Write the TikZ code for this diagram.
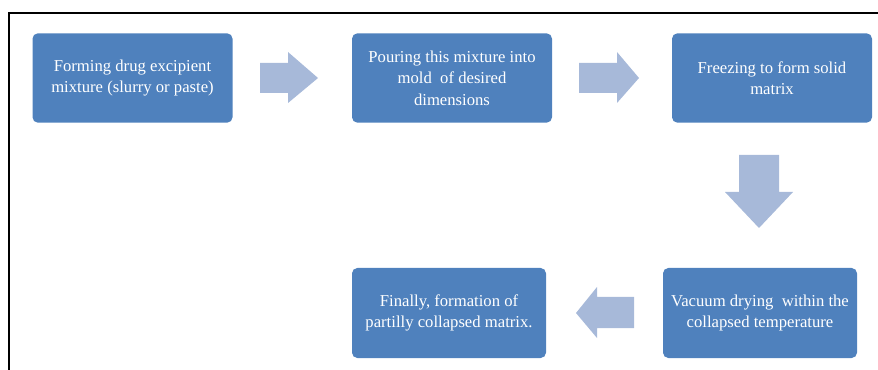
\documentclass[tikz,border=0pt]{standalone}
\usepackage{fontspec}
\setmainfont{Liberation Serif}
\definecolor{boxblue}{RGB}{79,129,189}
\definecolor{arrblue}{RGB}{167,185,217}
\begin{document}
\begin{tikzpicture}[x=0.75pt,y=-0.75pt,
  stepbox/.style={fill=boxblue, rounded corners=4pt, text=white, align=center,
    inner sep=2pt, font=\fontsize{12.5}{16}\selectfont},
  blockarrow/.style={fill=arrblue}]
\useasboundingbox (0,0) rectangle (878,370);
\draw[line width=1.5pt] (8.7,370) -- (8.7,13) -- (878,13);
\node[stepbox, minimum width=150pt, minimum height=67pt] (b1) at (132.5,78)
  {Forming drug excipient\\mixture (slurry or paste)};
\node[stepbox, minimum width=150pt, minimum height=67pt] (b2) at (452,78)
  {Pouring this mixture into\\mold\ \ of desired\\dimensions};
\node[stepbox, minimum width=150pt, minimum height=67pt] (b3) at (772,78)
  {Freezing to form solid\\matrix};
\node[stepbox, minimum width=145.5pt, minimum height=67.5pt] (b4) at (760,313)
  {Vacuum drying\ \ within the\\collapsed temperature};
\node[stepbox, minimum width=145.5pt, minimum height=67.5pt] (b5) at (449,313)
  {Finally, formation of\\partilly collapsed matrix.};
% block arrows
\fill[blockarrow] (260,63) -- (288,63) -- (288,52) -- (318,78) -- (288,103) -- (288,93) -- (260,93) -- cycle;
\fill[blockarrow] (579,63) -- (617,63) -- (617,52) -- (639,78) -- (617,103) -- (617,93) -- (579,93) -- cycle;
\fill[blockarrow] (739,155) -- (779,155) -- (779,192) -- (793,192) -- (759,228) -- (725,192) -- (739,192) -- cycle;
\fill[blockarrow] (634,297) -- (597,297) -- (597,287) -- (576,313) -- (597,338) -- (597,328) -- (634,328) -- cycle;
\end{tikzpicture}
\end{document}
